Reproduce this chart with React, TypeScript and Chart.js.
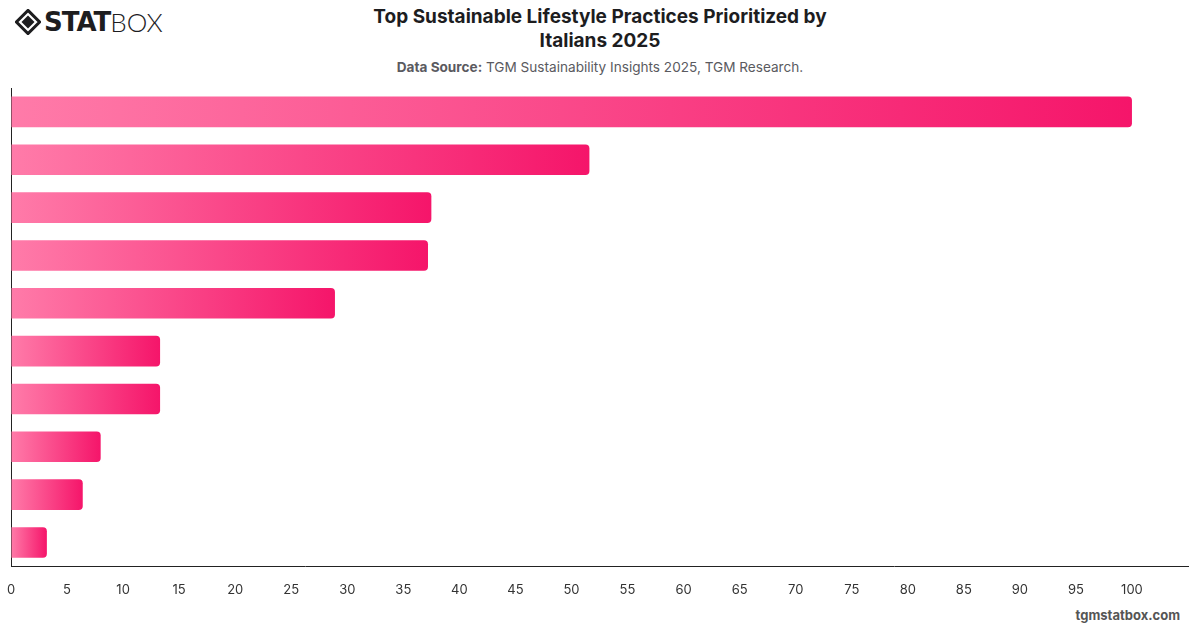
import React, { useEffect, useRef } from "react";
import { Chart, registerables } from "chart.js";

Chart.register(...registerables);

const categories: string[] = [
  "Reducing plastic use",
  "Recycling household waste",
  "Saving energy at home",
  "Reducing food waste",
  "Buying local products",
  "Using public transport",
  "Buying second-hand items",
  "Eating less meat",
  "Choosing eco-friendly brands",
  "Using renewable energy",
];

const values: number[] = [100, 51.6, 37.5, 37.2, 28.9, 13.3, 13.3, 8.0, 6.4, 3.2];

const xTicks: number[] = [0, 5, 10, 15, 20, 25, 30, 35, 40, 45, 50, 55, 60, 65, 70, 75, 80, 85, 90, 95, 100];

const FONT = "Inter, 'Noto Sans', 'DejaVu Sans', sans-serif";

export default function App() {
  const ref = useRef<HTMLCanvasElement | null>(null);

  useEffect(() => {
    document.body.style.margin = "0";
    const canvas = ref.current;
    if (!canvas) return;
    const chart = new Chart(canvas, {
      type: "bar",
      data: {
        labels: categories,
        datasets: [
          {
            data: values,
            borderRadius: 4,
            borderSkipped: "start",
            categoryPercentage: 0.8,
            barPercentage: 0.8,
            backgroundColor: (ctx: any) => {
              const c = ctx.chart;
              const xs = c.scales && c.scales.x;
              if (!xs || !c.chartArea) return "#f8447f";
              const v = ctx.raw as number;
              const x0 = xs.getPixelForValue(0);
              const x1 = xs.getPixelForValue(v);
              const g = c.ctx.createLinearGradient(x0, 0, Math.max(x1, x0 + 1), 0);
              g.addColorStop(0, "#ff7ba9");
              g.addColorStop(1, "#f5156a");
              return g;
            },
          },
        ],
      },
      options: {
        indexAxis: "y",
        animation: false,
        responsive: false,
        maintainAspectRatio: false,
        layout: { padding: { top: 8, left: 11, right: 12, bottom: 0 } },
        plugins: {
          legend: { display: false },
          title: { display: false },
          tooltip: { enabled: false },
        },
        scales: {
          x: {
            min: 0,
            max: 105,
            afterBuildTicks: (axis: any) => {
              axis.ticks = xTicks.map((v) => ({ value: v }));
            },
            grid: {
              display: true,
              drawOnChartArea: false,
              drawTicks: true,
              tickLength: 13,
              tickColor: "rgba(0,0,0,0)",
            },
            border: { display: true, color: "#222", width: 1 },
            ticks: {
              color: "#333",
              padding: 3,
              font: { family: FONT, size: 13 },
              maxRotation: 0,
              autoSkip: false,
            },
          },
          y: {
            afterFit: (axis: any) => {
              axis.width = 0;
            },
            grid: { display: false, drawTicks: false },
            border: { display: true, color: "#222", width: 1 },
            ticks: { display: false },
          },
        },
      },
    });
    return () => chart.destroy();
  }, []);

  return (
    <div style={{ position: "relative", width: 1200, height: 628, background: "#fff", overflow: "hidden", fontFamily: FONT }}>
      <div style={{ position: "absolute", left: 15, top: 9, display: "flex", alignItems: "center" }}>
        <svg width="26" height="26" viewBox="0 0 28 28">
          <polygon points="14,1.5 26.5,14 14,26.5 1.5,14" fill="none" stroke="#1d1d1f" strokeWidth="3.2" />
          <polygon points="14,7 21,14 14,21 7,14" fill="#1d1d1f" />
        </svg>
        <span style={{ marginLeft: 3, fontSize: 26, fontWeight: 900, letterSpacing: -1, color: "#1d1d1f", lineHeight: "26px", fontFamily: "'DejaVu Sans', sans-serif" }}>
          STAT
        </span>
        <span style={{ fontSize: 26, fontWeight: 300, color: "#1d1d1f", lineHeight: "26px", fontFamily: "Lato, Inter, sans-serif" }}>
          BOX
        </span>
      </div>
      <div style={{ position: "absolute", left: 0, width: 1200, top: 5, textAlign: "center", fontSize: 19, fontWeight: 700, color: "#1d1d1f", lineHeight: "24px" }}>
        Top Sustainable Lifestyle Practices Prioritized by
        <br />
        Italians 2025
      </div>
      <div style={{ position: "absolute", left: 0, width: 1200, top: 58, textAlign: "center", fontSize: 13.6, color: "#5a5a60", lineHeight: "18px" }}>
        <b>Data Source:</b> TGM Sustainability Insights 2025, TGM Research.
      </div>
      <canvas ref={ref} width={1200} height={521} style={{ position: "absolute", left: 0, top: 80, width: 1200, height: 521 }} />
      <div style={{ position: "absolute", right: 20, top: 607, fontSize: 13, fontWeight: 700, color: "#555" }}>
        tgmstatbox.com
      </div>
    </div>
  );
}
